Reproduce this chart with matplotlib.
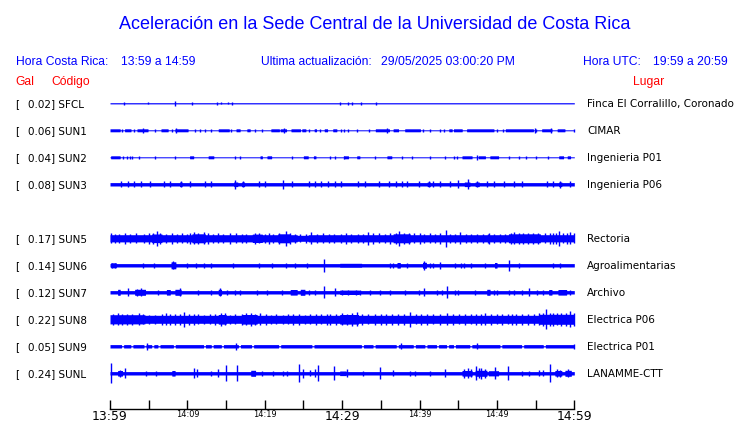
import numpy as np
from matplotlib import pyplot as plt

# datos de las estaciones
codigos = ["SFCL", "SUN1", "SUN2", "SUN3", "SUN5", "SUN6", "SUN7", "SUN8", "SUN9", "SUNL"]
gal = [0.02, 0.06, 0.04, 0.08, 0.17, 0.14, 0.12, 0.22, 0.05, 0.24]
lugares = ["Finca El Corralillo, Coronado", "CIMAR", "Ingenieria P01", "Ingenieria P06",
           "Rectoria", "Agroalimentarias", "Archivo", "Electrica P06", "Electrica P01",
           "LANAMME-CTT"]
# fila de cada estacion (SUN4 no tiene datos)
filas = [0, 1, 2, 3, 5, 6, 7, 8, 9, 10]

# amplitud base de cada traza
base = [0.6, 0.5, 0.5, 1.7, 3.6, 1.7, 1.7, 4.0, 1.7, 1.7]

# tramos (minuto inicio, minuto fin, amplitud)
tramos = {
    "SFCL": [],
    "SUN1": [(0, 1.3, 1.5), (1.9, 2.7, 1.5), (3.5, 4.9, 1.5), (6.6, 7.5, 1.5), (8.4, 10.1, 1.5),
             (14.0, 15.4, 1.5), (16.3, 16.8, 1.5), (17.7, 18.1, 1.5), (20.8, 21.9, 1.5),
             (22.0, 22.8, 1.5), (23.4, 24.6, 1.5), (24.8, 25.3, 1.5), (26.4, 26.7, 1.5),
             (27.7, 28.1, 1.5), (28.8, 29.3, 1.5), (34.3, 36.1, 1.5), (36.6, 37.3, 1.5),
             (38.1, 40.1, 1.5), (43.8, 44.2, 1.5), (44.4, 45.5, 1.5), (46.1, 49.6, 1.5),
             (51.1, 54.7, 1.5), (55.8, 57.1, 1.5), (57.8, 58.8, 1.5)],
    "SUN2": [(0.1, 1.3, 1.5), (10.3, 10.8, 1.5), (12.7, 13.4, 1.5), (19.4, 19.7, 1.5),
             (20.3, 20.9, 1.5), (25.0, 25.6, 1.5), (26.3, 26.6, 1.5), (30.2, 30.8, 1.5),
             (31.9, 32.3, 1.5), (35.8, 36.4, 1.5), (45.5, 46.8, 1.5), (47.6, 48.5, 1.5),
             (49.1, 50.2, 1.5), (58.0, 58.6, 1.5), (59.1, 59.5, 1.5)],
    "SUN3": [(9.0, 9.3, 2.3), (16.0, 16.5, 2.3), (17.0, 17.4, 2.3), (41.0, 41.4, 2.3),
             (45.8, 46.5, 2.3), (47.2, 47.7, 2.3), (58.0, 58.4, 2.3)],
    "SUN5": [(5.4, 6.7, 4.3), (10.6, 12.3, 4.5), (18.4, 19.7, 4.2), (21.7, 23.3, 4.5),
             (24.2, 25.6, 3.0), (36.6, 38.8, 4.5), (51.5, 55.6, 4.5)],
    "SUN6": [(0.1, 0.8, 2.5), (7.9, 8.5, 3.5), (29.7, 32.5, 2.0), (37.1, 37.5, 2.8),
             (40.4, 40.9, 3.0), (49.7, 50.0, 2.8)],
    "SUN7": [(1.0, 1.3, 3.0), (3.2, 4.6, 3.0), (7.3, 7.8, 2.8), (8.4, 9.2, 3.0), (14.0, 14.4, 3.0),
             (23.3, 24.2, 2.8), (24.6, 25.2, 3.0), (29.7, 32.2, 2.2), (48.7, 49.1, 3.0),
             (56.7, 57.1, 2.8), (57.9, 59.0, 2.8)],
    "SUN8": [(0, 4.5, 4.6), (14.0, 15.0, 4.8), (17.0, 19.0, 4.8), (29.7, 32.1, 4.8),
             (55.5, 60, 5.0)],
    "SUN9": [(1.5, 1.75, 0.6), (2.7, 2.95, 0.6), (4.4, 4.65, 0.6), (5.4, 5.65, 0.6),
             (6.2, 6.45, 0.6), (8.2, 8.45, 0.6), (12.1, 12.35, 0.6), (13.1, 13.35, 0.6),
             (14.4, 14.65, 0.6), (16.6, 16.85, 0.6), (18.3, 18.55, 0.6), (21.8, 22.05, 0.6),
             (26.1, 26.35, 0.6), (32.5, 32.75, 0.6), (34.0, 34.25, 0.6), (37.0, 37.25, 0.6),
             (39.2, 39.45, 0.6), (40.7, 40.95, 0.6), (42.2, 42.45, 0.6), (43.5, 43.75, 0.6),
             (44.4, 44.65, 0.6), (46.5, 46.75, 0.6), (50.4, 50.65, 0.6), (53.2, 53.45, 0.6),
             (56.0, 56.25, 0.6)],
    "SUNL": [(1.0, 1.6, 2.8), (8.0, 8.4, 2.8), (18.2, 18.8, 3.0), (29.7, 30.5, 2.3),
             (45.5, 46.8, 2.8), (47.2, 48.7, 3.0), (48.9, 50.2, 2.6), (57.5, 58.4, 2.8),
             (58.8, 59.6, 3.0)],
}

# picos (minuto, amplitud)
picos = {
    "SFCL": [(1.85, 1.5), (4.96, 1.2), (8.45, 2.5), (10.6, 1.5), (13.8, 1.5), (14.35, 1.2),
             (15.2, 1.2), (15.8, 1.5), (29.7, 1.5), (30.8, 1.5), (31.3, 1.5), (32.4, 1.5),
             (34.4, 1.5)],
    "SUN1": [(4.2, 2.5), (8.5, 2.5), (22.5, 2.5), (35.8, 2.5), (54.9, 2.5), (57.0, 2.5),
             (1.5, 1.5), (3.1, 1.5), (5.8, 1.5), (8.0, 1.5), (11.0, 1.5), (11.6, 1.5), (12.3, 1.5),
             (13.1, 1.5), (15.7, 1.5), (18.7, 1.5), (19.6, 1.5), (25.7, 1.5), (27.1, 1.5),
             (30.2, 1.5), (29.9, 1.5), (30.8, 1.5), (31.9, 1.5), (33.5, 1.5), (40.5, 1.5),
             (41.4, 1.5), (42.6, 1.5), (43.1, 1.5), (50.0, 1.5), (50.8, 1.5), (55.1, 1.5),
             (59.9, 1.5)],
    "SUN2": [(1.7, 1.3), (2.2, 1.3), (2.6, 1.3), (2.9, 1.3), (3.7, 1.3), (5.8, 1.3), (8.4, 1.3),
             (16.2, 1.3), (16.8, 1.3), (23.5, 1.3), (28.4, 1.3), (29.1, 1.3), (30.2, 1.3),
             (34.3, 1.3), (37.7, 1.3), (39.0, 1.3), (41.4, 1.3), (43.3, 1.3), (44.4, 1.3),
             (44.8, 1.3), (47.4, 2.5), (51.5, 1.3), (52.8, 1.3), (53.8, 1.3), (55.1, 1.3),
             (56.6, 1.3)],
    "SUN3": [(1.42, 3.0), (2.37, 3.0), (3.15, 3.0), (4.0, 3.0), (5.17, 3.0), (7.0, 3.0),
             (7.76, 3.0), (9.18, 3.0), (10.3, 3.0), (12.3, 3.0), (13.06, 3.0), (16.2, 4.5),
             (17.2, 3.0), (19.2, 3.0), (20.0, 3.0), (22.4, 4.5), (23.5, 3.0), (25.7, 3.0),
             (26.5, 3.0), (27.3, 3.0), (28.2, 3.0), (29.1, 3.0), (29.9, 3.0), (32.1, 3.0),
             (33.0, 3.0), (34.7, 3.0), (36.0, 3.0), (36.9, 3.0), (37.7, 3.0), (38.4, 3.0),
             (39.9, 3.0), (41.2, 3.0), (41.8, 3.0), (42.7, 3.0), (44.0, 3.0), (45.0, 4.0),
             (46.3, 5.0), (47.4, 3.0), (48.7, 3.0), (49.6, 3.0), (50.9, 3.0), (52.2, 3.0),
             (53.2, 3.0), (56.5, 3.0), (57.3, 3.0), (58.2, 3.5), (59.5, 3.0)],
    "SUN5": [(0.1, 5.0), (2.0, 5.5), (6.1, 7.3), (8.0, 5.5), (10.8, 6.0), (12.1, 6.0), (15.5, 5.5),
             (20.5, 5.5), (22.8, 7.3), (26.0, 6.0), (30.5, 5.5), (33.4, 6.5), (37.4, 7.5),
             (40.0, 5.5), (43.4, 8.3), (45.2, 6.0), (49.0, 5.5), (52.2, 6.0), (56.8, 5.5),
             (58.0, 7.3), (59.5, 6.0),
             (0.6, 4.6), (1.2, 4.8), (2.6, 4.5), (3.4, 5.0), (4.4, 4.6), (5.0, 5.2), (5.6, 5.8),
             (6.5, 5.5), (7.2, 4.6), (8.6, 4.8), (9.3, 5.0), (9.9, 4.5), (10.3, 5.5), (11.4, 5.8),
             (12.6, 5.2), (13.3, 4.6), (14.0, 5.0), (14.6, 4.5), (16.3, 5.0), (17.0, 4.6),
             (17.6, 4.4), (18.8, 5.2), (19.3, 5.0), (20.0, 4.6), (21.1, 4.6), (21.9, 5.5),
             (23.2, 5.5), (23.9, 4.5), (24.6, 4.0), (25.3, 4.2), (26.8, 4.8), (27.5, 5.0),
             (28.3, 4.6), (29.0, 4.8), (29.8, 4.6), (31.2, 4.8), (32.0, 4.6), (32.7, 4.8),
             (34.0, 5.2), (34.8, 5.0), (35.6, 4.8), (36.2, 5.2), (36.9, 5.8), (38.0, 5.5),
             (38.6, 5.6), (39.3, 5.0), (40.6, 4.8), (41.3, 5.0), (42.0, 4.6), (42.7, 5.2),
             (44.0, 4.6), (44.6, 4.8), (46.0, 4.4), (46.7, 4.6), (47.4, 4.4), (48.2, 4.2),
             (48.8, 4.4), (49.6, 4.2), (50.4, 4.4), (51.0, 4.6), (51.8, 5.6), (52.8, 5.4),
             (53.4, 5.8), (54.0, 5.4), (54.7, 5.6), (55.3, 5.2), (56.2, 5.0), (57.2, 5.2),
             (57.6, 5.6), (58.6, 5.0), (59.1, 5.2), (59.9, 5.0)],
    "SUN6": [(0.2, 2.8), (0.7, 2.8), (4.3, 2.8), (5.7, 2.8), (8.2, 4.0), (9.9, 2.8), (11.1, 2.8),
             (12.2, 2.8), (13.1, 2.8), (15.9, 2.8), (19.2, 2.8), (20.9, 2.8), (22.8, 2.8),
             (23.9, 2.8), (25.4, 2.8), (27.7, 6.7), (36.2, 2.8), (36.6, 2.8), (38.4, 2.8),
             (40.6, 4.5), (41.4, 2.8), (41.7, 2.8), (42.6, 3.5), (44.6, 2.8), (45.3, 2.8),
             (45.8, 2.8), (46.6, 2.8), (48.5, 2.8), (51.6, 5.5), (52.9, 2.8), (57.2, 2.8),
             (58.1, 2.8)],
    "SUN7": [(2.3, 4.0), (4.0, 4.0), (3.5, 3.8), (6.2, 2.8), (9.0, 4.0), (11.4, 2.8), (13.1, 2.8),
             (14.2, 4.0), (15.1, 2.8), (16.2, 2.8), (16.8, 2.8), (19.0, 2.8), (20.3, 2.8),
             (22.2, 2.8), (25.7, 2.8), (26.5, 2.8), (27.7, 6.0), (29.1, 4.0), (30.0, 2.8),
             (30.8, 2.8), (31.8, 2.8), (32.3, 2.8), (33.6, 2.8), (34.9, 2.8), (36.2, 2.8),
             (38.1, 2.8), (39.9, 2.8), (40.6, 4.0), (42.2, 2.8), (42.9, 2.8), (43.6, 6.0),
             (44.6, 2.8), (45.0, 2.8), (47.2, 2.8), (49.6, 2.8), (50.0, 2.8), (51.5, 2.8),
             (52.2, 2.8), (53.2, 2.8), (54.1, 4.0), (55.2, 2.8), (56.0, 2.8), (59.5, 2.8)],
    "SUN8": [(3.7, 6.0), (7.3, 6.0), (9.5, 7.7), (14.4, 6.7), (17.6, 6.0), (19.4, 6.0), (23.7, 5.5),
             (26.6, 5.5), (28.4, 5.5), (31.9, 7.0), (38.8, 7.5), (43.5, 6.0), (48.5, 6.0),
             (52.5, 5.5), (56.3, 10.0), (57.8, 6.0), (59.5, 8.0),
             (0.4, 5.5), (1.0, 6.0), (1.6, 5.4), (2.2, 5.8), (2.9, 5.2), (4.3, 5.0), (5.0, 4.6),
             (5.8, 4.8), (6.7, 5.4), (7.8, 5.6), (8.4, 5.2), (9.0, 5.8), (10.2, 5.4), (10.8, 5.6),
             (11.4, 5.0), (12.2, 4.8), (12.9, 5.0), (13.6, 5.2), (14.8, 6.0), (15.5, 4.8),
             (16.2, 5.0), (17.0, 5.8), (18.2, 6.2), (18.8, 5.6), (20.1, 5.4), (20.8, 4.8),
             (21.5, 5.0), (22.3, 4.8), (23.0, 5.0), (24.4, 5.2), (25.2, 4.8), (25.9, 5.0),
             (27.3, 5.0), (28.0, 5.2), (29.2, 5.2), (30.0, 6.0), (30.6, 5.8), (31.3, 6.2),
             (32.6, 5.2), (33.3, 5.0), (34.2, 5.6), (35.0, 5.8), (35.7, 5.4), (36.4, 5.6),
             (37.2, 5.6), (38.0, 5.4), (39.5, 5.0), (40.2, 5.2), (41.0, 5.6), (41.8, 5.0),
             (42.6, 5.2), (44.3, 5.4), (45.1, 5.0), (45.9, 5.2), (46.6, 5.0), (47.3, 5.4),
             (48.0, 5.8), (49.2, 5.4), (50.0, 5.0), (50.7, 5.2), (51.4, 5.0), (52.0, 5.4),
             (53.2, 5.2), (54.0, 5.6), (54.8, 5.4), (55.5, 6.0), (56.0, 6.8), (56.8, 6.5),
             (57.3, 6.4), (58.3, 6.8), (58.9, 6.4), (59.9, 6.5)],
    "SUN9": [(4.8, 3.5), (16.3, 3.5), (37.6, 3.0), (47.4, 3.0), (59.9, 2.8)],
    "SUNL": [(0.1, 10.0), (1.3, 3.5), (1.9, 5.0), (4.7, 2.8), (5.9, 2.8), (10.8, 5.0), (11.2, 4.0),
             (13.1, 2.8), (13.9, 4.0), (15.0, 8.0), (16.4, 8.0), (19.6, 2.8), (21.1, 2.8),
             (22.3, 2.8), (22.9, 2.8), (24.4, 9.0), (25.0, 4.5), (25.8, 3.0), (26.5, 4.0),
             (26.9, 8.0), (29.0, 7.0), (30.6, 4.0), (32.7, 2.8), (34.9, 6.0), (36.6, 3.0),
             (38.8, 2.8), (39.4, 2.8), (41.4, 2.8), (43.3, 4.0), (45.7, 4.5), (46.2, 5.0),
             (46.6, 4.0), (47.3, 7.0), (47.7, 5.0), (48.0, 5.5), (48.4, 4.5), (49.8, 6.0),
             (51.4, 7.0), (53.2, 2.8), (54.1, 2.8), (55.4, 3.0), (56.0, 3.0), (56.9, 9.0),
             (57.8, 4.0), (58.2, 3.8), (59.2, 4.0)],
}

# eje de tiempo
minutos_ticks = list(range(0, 61, 5))
etiquetas_ticks = ["13:59", "", "14:09", "", "14:19", "", "14:29", "", "14:39", "", "14:49", "", "14:59"]
etiquetas_grandes = ["13:59", "14:29", "14:59"]

azul = "#0000ff"
rojo = "#ff0000"
W, H = 740, 423


def fx(x):
    return x / W


def fy(y):
    return 1 - y / H


fig = plt.figure(figsize=(7.4, 4.23), dpi=100)
fig.patch.set_facecolor("white")

# area de las trazas, en y se usa el pixel
ax = fig.add_axes([fx(110), fy(409), 464.3 / W, (409 - 90) / H])
ax.set_xlim(0, 60)
ax.set_ylim(409, 90)
for s in ["top", "left", "right"]:
    ax.spines[s].set_visible(False)
ax.spines["bottom"].set_linewidth(1.0)
ax.set_yticks([])
ax.set_xticks(minutos_ticks)
ax.set_xticklabels(etiquetas_ticks, family="DejaVu Sans")
for lab in ax.get_xticklabels():
    lab.set_fontsize(8.9 if lab.get_text() in etiquetas_grandes else 5.9)
ax.tick_params(axis="x", direction="in", length=6.5, width=1.0, pad=0.8, colors="black")

t = np.linspace(0, 60, 2401)
for i, cod in enumerate(codigos):
    c = 103.3 + 27 * filas[i]
    env = np.full_like(t, base[i])
    for t0, t1, h in tramos[cod]:
        env[(t >= t0) & (t <= t1)] = h
    ax.fill_between(t, c - env, c + env, color=azul, lw=0)
    if picos[cod]:
        pt = [p[0] for p in picos[cod]]
        ph = [p[1] for p in picos[cod]]
        ax.vlines(pt, [c - h for h in ph], [c + h for h in ph], color=azul, lw=1.0, clip_on=False)

    # textos de la fila
    fig.text(fx(15), fy(c + 3.7), "[", fontsize=7.5, family="DejaVu Sans", va="baseline")
    fig.text(fx(27.7), fy(c + 3.7), "{:.2f}] {}".format(gal[i], cod), fontsize=7.5,
             family="DejaVu Sans", va="baseline")
    fig.text(fx(587), fy(c + 3.7), lugares[i], fontsize=7.5, family="DejaVu Sans", va="baseline")

# titulo y encabezados
fig.text(fx(375), fy(29.3), "Aceleración en la Sede Central de la Universidad de Costa Rica",
         fontsize=13, color=azul, family="Liberation Sans", ha="center", va="baseline")
enc = [(15.6, "Hora Costa Rica:"), (121, "13:59 a 14:59"), (261, "Ultima actualización:"),
       (381, "29/05/2025 03:00:20 PM"), (583, "Hora UTC:"), (653, "19:59 a 20:59")]
for x, s in enc:
    fig.text(fx(x), fy(65), s, fontsize=8.7, color=azul, family="Liberation Sans", va="baseline")
for x, s in [(15.6, "Gal"), (51, "Código"), (633, "Lugar")]:
    fig.text(fx(x), fy(85), s, fontsize=8.7, color=rojo, family="Liberation Sans", va="baseline")

plt.savefig("out.png", dpi=100)
